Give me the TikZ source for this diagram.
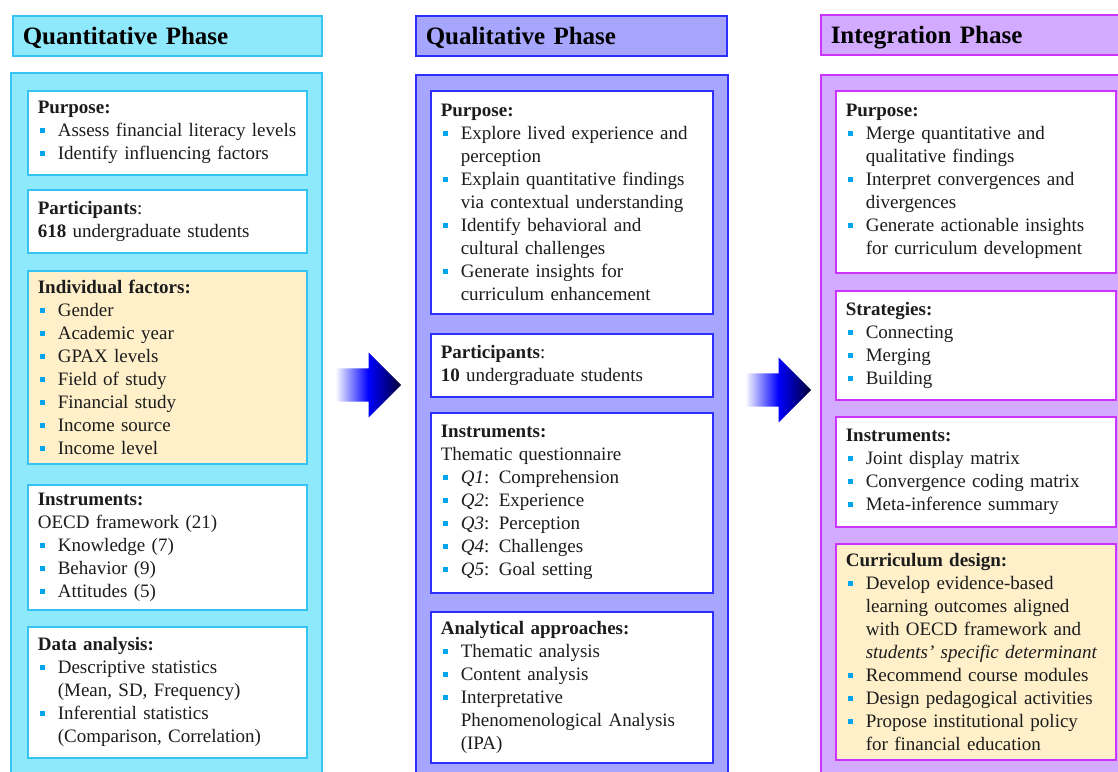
\documentclass[tikz,border=0pt]{standalone}
\usepackage{fontspec}
\usepackage{xcolor}
\setmainfont{Liberation Serif}
\usetikzlibrary{shapes.arrows}

\definecolor{qncyan}{HTML}{8EE9FD}
\definecolor{qnedge}{HTML}{35C4F2}
\definecolor{qlblue}{HTML}{A6A6FF}
\definecolor{qledge}{HTML}{2E2EFF}
\definecolor{inviolet}{HTML}{D2AAFF}
\definecolor{inedge}{HTML}{CC33FF}
\definecolor{beige}{HTML}{FFF0CA}
\definecolor{dot}{HTML}{00A6EC}
\definecolor{ink}{HTML}{1C1C1C}

\hyphenpenalty=10000
\newcommand{\bpt}[1]{\par\leftskip=20pt\noindent\llap{\makebox[20pt][l]{\hspace{2pt}\textcolor{dot}{\rule[0.2em]{5pt}{5pt}}}}#1\par}

\tikzset{
  phasehead/.style={draw, line width=1.5pt, anchor=north west, minimum height=40pt, inner xsep=10pt, text height=18pt, text depth=0pt, align=left, text=black, font=\fontsize{25}{28}\selectfont\bfseries},
  phaseframe/.style={draw, line width=1.5pt, anchor=north west, minimum height=720pt},
  card/.style={draw, fill=white, line width=1.6pt, anchor=north west, inner xsep=10pt, inner ysep=4pt, align=left, text=ink, font=\fontsize{19}{23}\selectfont},
  flow/.style={single arrow, single arrow head extend=16pt, single arrow head indent=0pt, minimum height=66pt, inner xsep=0pt, inner ysep=16.5pt, left color=white, right color=black!80!blue, middle color=blue}
}

\begin{document}
\begin{tikzpicture}[x=1pt, y=-1pt]
\useasboundingbox (0,0) rectangle (1118,771);
\clip (0,0) rectangle (1118,771);

% quantitative column
\node[phasehead, fill=qncyan, draw=qnedge, text width=289pt] (qnhead) at (12,15) {Quantitative Phase};
\node[phaseframe, fill=qncyan, draw=qnedge, minimum width=311pt] (qnframe) at (10,72) {};
\node[card, draw=qnedge, text width=259pt, minimum height=84pt] (qnpurp) at (27,90) {
\textbf{Purpose:}
\bpt{Assess financial literacy levels}
\bpt{Identify influencing factors}};
\node[card, draw=qnedge, text width=259pt, minimum height=63pt] (qnpart) at (27,189) {
\textbf{Participants}:\par
\textbf{618} undergraduate students};
\node[card, draw=qnedge, fill=beige, text width=259pt, minimum height=193pt] (qnfact) at (27,270) {
\textbf{Individual factors:}
\bpt{Gender}
\bpt{Academic year}
\bpt{GPAX levels}
\bpt{Field of study}
\bpt{Financial study}
\bpt{Income source}
\bpt{Income level}};
\node[card, draw=qnedge, text width=259pt, minimum height=125pt] (qninst) at (27,484) {
\textbf{Instruments:}\par
OECD framework (21)
\bpt{Knowledge (7)}
\bpt{Behavior (9)}
\bpt{Attitudes (5)}};
\node[card, draw=qnedge, text width=259pt, minimum height=131pt] (qndata) at (27,626) {
\textbf{Data analysis:}
\bpt{Descriptive statistics\\(Mean, SD, Frequency)}
\bpt{Inferential statistics\\(Comparison, Correlation)}};

% qualitative column
\node[phasehead, fill=qlblue, draw=qledge, text width=291pt] (qlhead) at (415,15) {Qualitative Phase};
\node[phaseframe, fill=qlblue, draw=qledge, minimum width=312pt] (qlframe) at (415,74) {};
\node[card, draw=qledge, text width=262pt, minimum height=223pt] (qlpurp) at (430,90) {
\textbf{Purpose:}
\bpt{Explore lived experience and\\perception}
\bpt{Explain quantitative findings\\via contextual understanding}
\bpt{Identify behavioral and\\cultural challenges}
\bpt{Generate insights for\\curriculum enhancement}};
\node[card, draw=qledge, text width=262pt, minimum height=63pt] (qlpart) at (430,333) {
\textbf{Participants}:\par
\textbf{10} undergraduate students};
\node[card, draw=qledge, text width=262pt, minimum height=180pt] (qlinst) at (430,412) {
\textbf{Instruments:}\par
Thematic questionnaire
\bpt{\textit{Q1}: Comprehension}
\bpt{\textit{Q2}: Experience}
\bpt{\textit{Q3}: Perception}
\bpt{\textit{Q4}: Challenges}
\bpt{\textit{Q5}: Goal setting}};
\node[card, draw=qledge, text width=262pt, minimum height=151pt] (qlanal) at (430,611) {
\textbf{Analytical approaches:}
\bpt{Thematic analysis}
\bpt{Content analysis}
\bpt{Interpretative\\Phenomenological Analysis\\(IPA)}};

% integration column
\node[phasehead, fill=inviolet, draw=inedge, text width=280pt] (inhead) at (820,14) {Integration Phase};
\node[phaseframe, fill=inviolet, draw=inedge, minimum width=300pt] (inframe) at (820,74) {};
\node[card, draw=inedge, text width=260pt, minimum height=182pt] (inpurp) at (835,90) {
\textbf{Purpose:}
\bpt{Merge quantitative and\\qualitative findings}
\bpt{Interpret convergences and\\divergences}
\bpt{Generate actionable insights\\for curriculum development}};
\node[card, draw=inedge, text width=260pt, minimum height=109pt] (instrat) at (835,290) {
\textbf{Strategies:}
\bpt{Connecting}
\bpt{Merging}
\bpt{Building}};
\node[card, draw=inedge, text width=260pt, minimum height=110pt] (ininst) at (835,416) {
\textbf{Instruments:}
\bpt{Joint display matrix}
\bpt{Convergence coding matrix}
\bpt{Meta-inference summary}};
\node[card, draw=inedge, fill=beige, text width=260pt, minimum height=216pt] (incurr) at (835,543) {
\textbf{Curriculum design:}
\bpt{Develop evidence-based\\learning outcomes aligned\\with OECD framework and\\\textit{students' specific determinant}}
\bpt{Recommend course modules}
\bpt{Design pedagogical activities}
\bpt{Propose institutional policy\\for financial education}};

% shaded arrows between the phases
\node[flow, anchor=west] (go1) at (335,385) {};
\node[flow, anchor=west] (go2) at (745,390) {};
\end{tikzpicture}
\end{document}
